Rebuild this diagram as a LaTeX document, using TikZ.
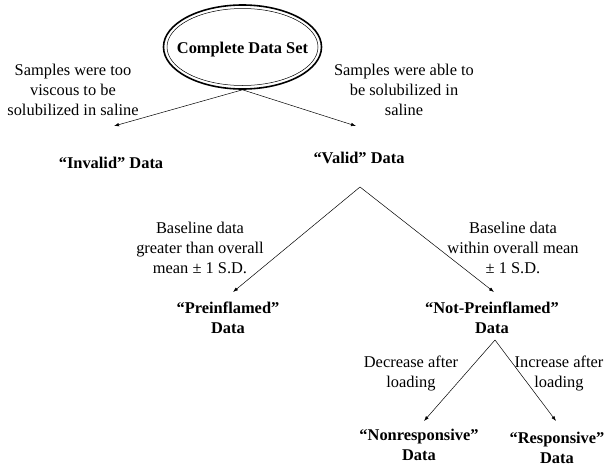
\documentclass[tikz,border=0pt]{standalone}
\usepackage{fontspec}
\setmainfont{Liberation Serif}
\usetikzlibrary{arrows.meta,positioning,shapes.geometric,calc}

\begin{document}
\begin{tikzpicture}[
      x=1pt, y=-1pt,
      every node/.style={font=\fontsize{16.4}{20}\selectfont, align=center, inner sep=0pt},
      res/.style={font=\fontsize{16.4}{20}\selectfont\bfseries},
      arr/.style={-{Latex[length=5pt,width=3.5pt]}, line width=0.5pt}
    ]
      \useasboundingbox (0,0) rectangle (608,466);
      % root
      \node[ellipse, draw, line width=1.6pt, minimum width=158pt, minimum height=84pt] (cds) at (242.5,47) {};
      \draw[line width=0.5pt] (cds.center) ellipse (75.5 and 38.5);
      \node[res] (cdstext) at (242.5,50) {Complete Data Set};
      % first split
      \node (lab1) at (73,90) {Samples were too\\viscous to be\\solubilized in saline};
      \node (lab2) at (404,90) {Samples were able to\\be solubilized in\\saline};
      \coordinate (t1) at (114,126);
      \coordinate (t2) at (356,126);
      \draw[arr] (cds.south) -- (t1);
      \draw[arr] (cds.south) -- (t2);
      \node[res] (invalid) at (111,163) {“Invalid” Data};
      \node[res] (valid) at (359,158) {“Valid” Data};
      % second split
      \coordinate (v0) at (360,187);
      \coordinate (t3) at (233,292);
      \coordinate (t4) at (494,292);
      \draw[arr] (v0) -- (t3);
      \draw[arr] (v0) -- (t4);
      \node (lab3) at (200,248) {Baseline data\\greater than overall\\mean ± 1 S.D.};
      \node (lab4) at (513,248) {Baseline data\\within overall mean\\± 1 S.D.};
      \node[res] (pre) at (228,318) {“Preinflamed”\\Data};
      \node[res] (notpre) at (492,318) {“Not-Preinflamed”\\Data};
      % third split
      \coordinate (n0) at (495,340);
      \coordinate (t5) at (424,421);
      \coordinate (t6) at (556,421);
      \draw[arr] (n0) -- (t5);
      \draw[arr] (n0) -- (t6);
      \node (lab5) at (411,373) {Decrease after\\loading};
      \node (lab6) at (559,373) {Increase after\\loading};
      \node[res] (nonresp) at (419,445) {“Nonresponsive”\\Data};
      \node[res] (resp) at (557,448) {“Responsive”\\Data};
    \end{tikzpicture}
\end{document}
